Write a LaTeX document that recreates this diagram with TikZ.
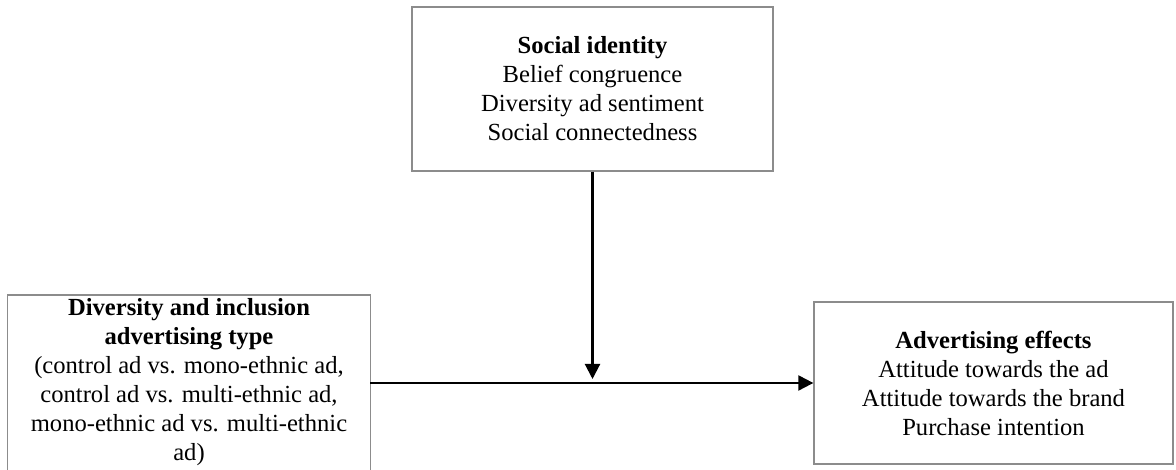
\documentclass[tikz,border=0pt]{standalone}
\usepackage{fontspec}
\setmainfont{Liberation Serif}
\usetikzlibrary{arrows.meta}
\definecolor{boxgray}{gray}{0.55}
\begin{document}
\begin{tikzpicture}[x=1pt,y=1pt,
  txt/.style={align=center, inner xsep=0pt, inner ysep=3pt, font=\fontsize{24.6}{29}\selectfont},
  box/.style={txt, draw=boxgray, line width=1.3pt, inner sep=0pt},
  boxline/.style={draw=boxgray, line width=1.3pt},
  arr/.style={line width=2.1pt, -{Triangle[length=15pt,width=15pt]}}]
\useasboundingbox (0,0) rectangle (1176,470);
\clip (0,0) rectangle (1176,470);
\node[box, minimum width=361pt, minimum height=164pt] (soc) at (592.5,381)
  {\textbf{Social identity}\\Belief congruence\\Diversity ad sentiment\\Social connectedness};
\node[box, minimum width=359pt, minimum height=162pt] (eff) at (993.5,87)
  {\textbf{Advertising effects}\\Attitude towards the ad\\Attitude towards the brand\\Purchase intention};
\node[txt, minimum width=362pt, anchor=north] (div) at (189,175)
  {\textbf{Diversity and inclusion}\\\textbf{advertising type}\\(control ad vs. mono-ethnic ad,\\control ad vs. multi-ethnic ad,\\mono-ethnic ad vs. multi-ethnic\\ad)};
\draw[boxline] ([yshift=-12pt]div.south west) -- (div.north west) -- (div.north east) -- ([yshift=-12pt]div.south east);
\coordinate (cross) at (soc.south |- eff.west);
\draw[arr] (div.east |- eff.west) -- (eff.west);
\draw[arr, shorten >=4pt] (soc.south) -- (cross);
\end{tikzpicture}
\end{document}
